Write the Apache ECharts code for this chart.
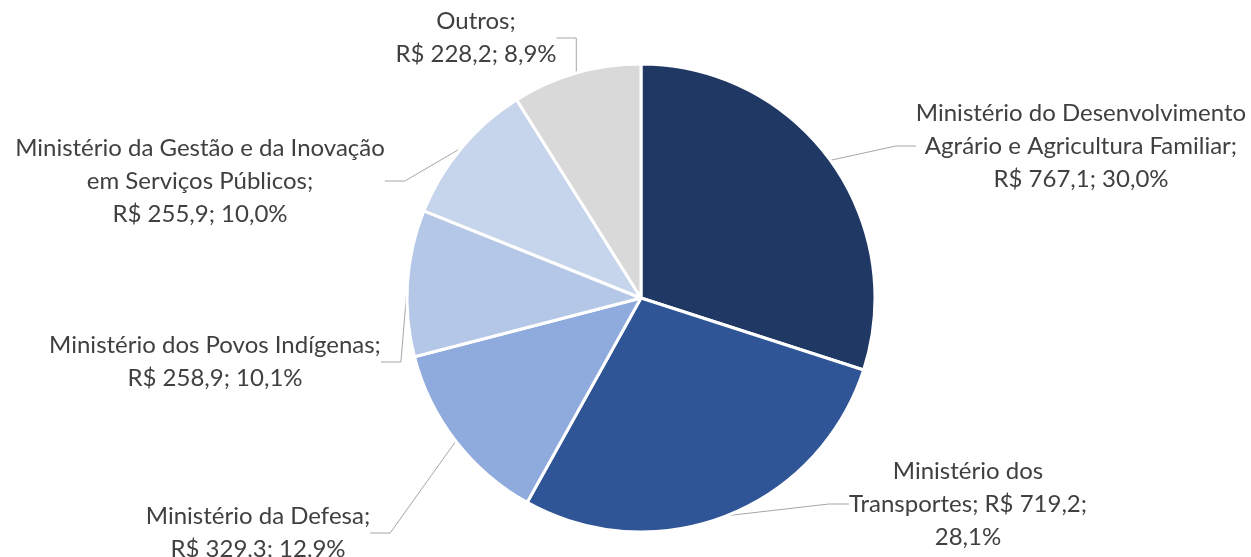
<!DOCTYPE html>
<html>
<head>
<meta charset="utf-8">
<script src="https://cdn.jsdelivr.net/npm/echarts@6/dist/echarts.min.js"></script>
<style>
  html, body { margin: 0; padding: 0; background: #fff; }
  #chart { width: 1251px; height: 557px; }
</style>
</head>
<body>
<div id="chart"></div>
<script>
// dados (R$ milhões) - nomes com a quebra de linha do gráfico original
const categories = [
  'Ministério do Desenvolvimento\nAgrário e Agricultura Familiar',
  'Ministério dos\nTransportes',
  'Ministério da Defesa',
  'Ministério dos Povos Indígenas',
  'Ministério da Gestão e da Inovação\nem Serviços Públicos',
  'Outros'
]
const values = [767.1, 719.2, 329.3, 258.9, 255.9, 228.2]
const colors = ['#203864', '#2F5597', '#8FAADC', '#B4C7E7', '#C7D5EC', '#D9D9D9']

// layout dos rótulos: centro do bloco de texto e separadores
const labelPos = [[1081, 146], [968, 504], [258, 533], [215, 362], [200, 181], [476, 38]]
const sepName = ['\n', ' ', '\n', '\n', '\n', '\n']
const sepPct = [' ', '\n', ' ', ' ', ' ', ' ']

const fmt = v => v.toFixed(1).replace('.', ',')
const total = values.reduce((a, b) => a + b, 0)

const chart = echarts.init(document.getElementById('chart'))
const option = {
  animation: false,
  series: [{
    type: 'pie',
    center: [641, 298],
    radius: 234,
    startAngle: 90,
    clockwise: true,
    itemStyle: { borderColor: '#fff', borderWidth: 3 },
    label: {
      show: true,
      position: 'outside',
      color: '#404040',
      fontFamily: 'Lato',
      fontSize: 24,
      lineHeight: 33,
      align: 'center',
      formatter: p => {
        const i = p.dataIndex
        return p.name + ';' + sepName[i] + 'R$ ' + fmt(p.value) + ';' + sepPct[i] + fmt(p.value / total * 100) + '%'
      }
    },
    labelLine: { show: true, length: 20, length2: 20, lineStyle: { color: '#A6A6A6', width: 1 } },
    labelLayout: p => ({
      x: labelPos[p.dataIndex][0],
      y: labelPos[p.dataIndex][1],
      align: 'center',
      verticalAlign: 'middle'
    }),
    data: categories.map((c, i) => ({
      name: c,
      value: values[i],
      itemStyle: { color: colors[i] }
    }))
  }]
}
chart.setOption(option)
window.addEventListener('resize', () => chart.resize())
</script>
</body>
</html>
